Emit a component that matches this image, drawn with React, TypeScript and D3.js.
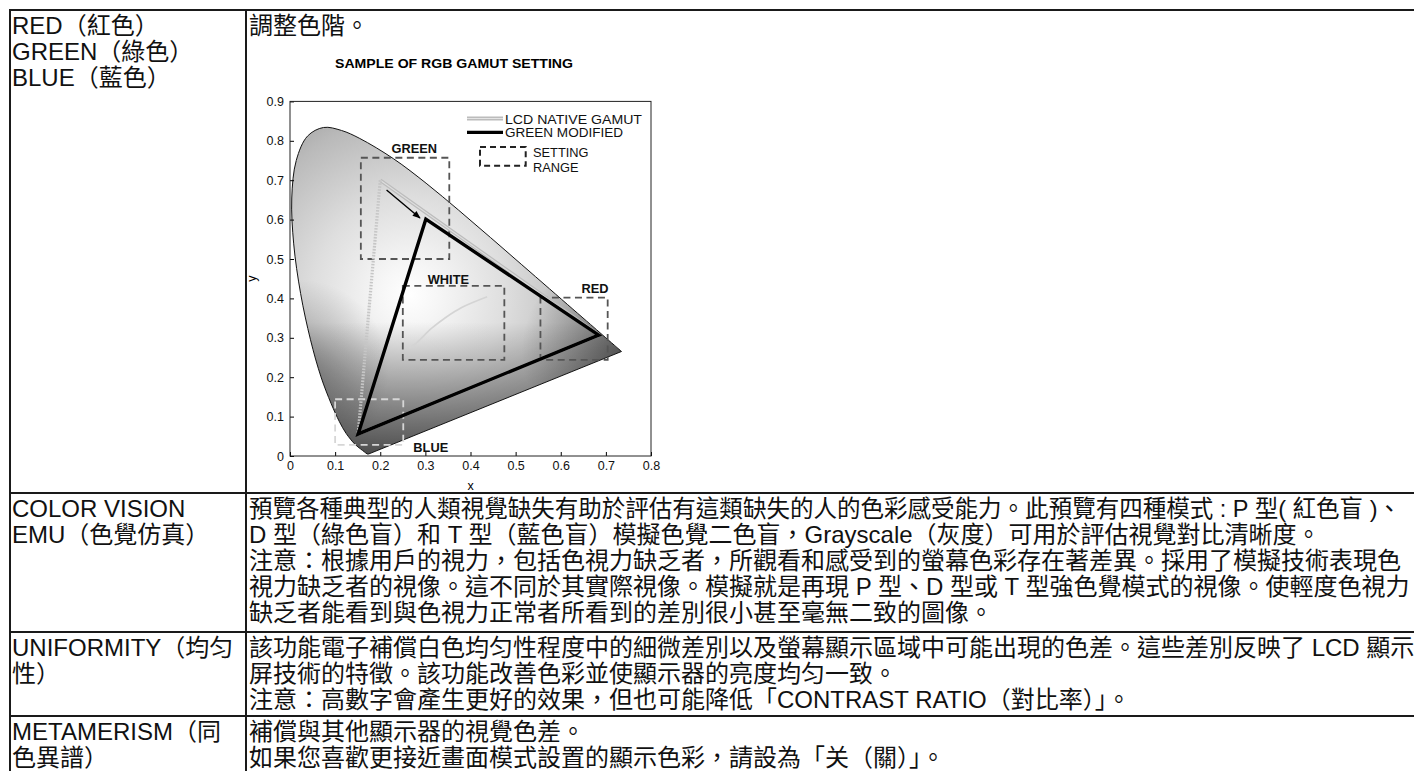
import React, { useEffect, useRef } from "react";
import * as d3 from "d3";

// CIE 1931 spectral locus (nm, x, y)
const locusNm = [380, 420, 440, 450, 460, 470, 475, 480, 485, 490, 495, 500, 505, 510, 515, 520, 525, 530, 540, 550, 560, 570, 580, 590, 600, 610, 620, 640, 700];
const locusX = [0.1741, 0.1714, 0.1644, 0.1566, 0.144, 0.1241, 0.1096, 0.0913, 0.0687, 0.0454, 0.0235, 0.0082, 0.0039, 0.0139, 0.0389, 0.0743, 0.1142, 0.1547, 0.2296, 0.3016, 0.3731, 0.4441, 0.5125, 0.5752, 0.627, 0.6658, 0.6915, 0.719, 0.7347];
const locusY = [0.005, 0.0051, 0.0109, 0.0177, 0.0297, 0.0578, 0.0868, 0.1327, 0.2007, 0.295, 0.4127, 0.5384, 0.6548, 0.7502, 0.812, 0.8338, 0.8262, 0.8059, 0.7543, 0.6923, 0.6245, 0.5547, 0.4866, 0.4242, 0.3725, 0.334, 0.3083, 0.2809, 0.2653];

// primaries G, R, B
const nativeX = [0.2, 0.684, 0.151];
const nativeY = [0.7, 0.307, 0.056];
const modifiedX = [0.301, 0.684, 0.151];
const modifiedY = [0.601, 0.307, 0.056];

// setting range boxes
const rangeNames = ["GREEN", "WHITE", "RED", "BLUE"];
const rangeX0 = [0.157, 0.25, 0.555, 0.1];
const rangeX1 = [0.353, 0.475, 0.704, 0.251];
const rangeY0 = [0.5, 0.244, 0.244, 0.028];
const rangeY1 = [0.757, 0.432, 0.402, 0.144];
const rangeLabelX = [0.2755, 0.351, 0.676, 0.312];
const rangeLabelY = [0.781, 0.449, 0.424, 0.021];

// black body curve inside WHITE
const planckX = [0.264, 0.281, 0.3135, 0.3451, 0.3805, 0.4369];
const planckY = [0.273, 0.288, 0.3237, 0.3516, 0.3768, 0.4041];

const arrowFrom = [0.214, 0.675];
const arrowTo = [0.288, 0.604];

const xTicks = [0, 0.1, 0.2, 0.3, 0.4, 0.5, 0.6, 0.7, 0.8];
const yTicks = [0, 0.1, 0.2, 0.3, 0.4, 0.5, 0.6, 0.7, 0.8, 0.9];

const chartTitle = "SAMPLE OF RGB GAMUT SETTING";
const legendLines = ["LCD NATIVE GAMUT", "GREEN MODIFIED"];
const legendRange = ["SETTING", "RANGE"];

// table
const itemNames = [
  ["RED（紅色）", "GREEN（綠色）", "BLUE（藍色）"],
  ["COLOR VISION", "EMU（色覺仿真）"],
  ["UNIFORMITY（均匀", "性）"],
  ["METAMERISM（同", "色異譜）"],
];
const itemTexts = [
  ["調整色階。"],
  [
    "預覽各種典型的人類視覺缺失有助於評估有這類缺失的人的色彩感受能力。此預覽有四種模式 : P 型( 紅色盲 )、",
    "D 型（綠色盲）和 T 型（藍色盲）模擬色覺二色盲，Grayscale（灰度）可用於評估視覺對比清晰度。",
    "注意：根據用戶的視力，包括色視力缺乏者，所觀看和感受到的螢幕色彩存在著差異。採用了模擬技術表現色",
    "視力缺乏者的視像。這不同於其實際視像。模擬就是再現 P 型、D 型或 T 型強色覺模式的視像。使輕度色視力",
    "缺乏者能看到與色視力正常者所看到的差別很小甚至毫無二致的圖像。",
  ],
  [
    "該功能電子補償白色均匀性程度中的細微差別以及螢幕顯示區域中可能出現的色差。這些差別反映了 LCD 顯示",
    "屏技術的特徵。該功能改善色彩並使顯示器的亮度均匀一致。",
    "注意：高數字會產生更好的效果，但也可能降低「CONTRAST RATIO（對比率）」。",
  ],
  [
    "補償與其他顯示器的視覺色差。",
    "如果您喜歡更接近畫面模式設置的顯示色彩，請設為「关（關）」。",
  ],
];

const FONT = "'Liberation Sans', Arial, Helvetica, 'Noto Sans CJK TC', sans-serif";

export default function App() {
  const ref = useRef<SVGSVGElement>(null);

  useEffect(() => {
    const svg = d3.select(ref.current);
    svg.selectAll("*").remove();
    const W = 1414, H = 771;
    svg.append("rect").attr("width", W).attr("height", H).attr("fill", "#fff");
    const defs = svg.append("defs");

    // ---- table ----
    const left = 10, split = 246;
    const rows = [10, 493, 632, 716];
    const grid = svg.append("g").attr("stroke", "#1a1a1a").attr("stroke-width", 2);
    rows.forEach(r => grid.append("line").attr("x1", left - 1).attr("x2", W).attr("y1", r).attr("y2", r));
    [left, split].forEach(v => grid.append("line").attr("x1", v).attr("x2", v).attr("y1", rows[0] - 1).attr("y2", H));

    const txt = svg.append("g").attr("font-family", FONT).attr("font-size", 24).attr("fill", "#111");
    itemNames.forEach((lines, i) =>
      lines.forEach((t, j) => txt.append("text").attr("x", 12).attr("y", rows[i] + 24 + j * 26).text(t)));
    itemTexts.forEach((lines, i) =>
      lines.forEach((t, j) => {
        const el = txt.append("text").attr("x", 249).attr("y", rows[i] + 24 + j * 26).text(t);
        // the first colour-vision line runs to the right edge
        if (i === 1 && j === 0) el.attr("textLength", 1152).attr("lengthAdjust", "spacingAndGlyphs");
      }));

    // ---- chart ----
    const x = d3.scaleLinear().domain([0, 0.8]).range([290, 651]);
    const y = d3.scaleLinear().domain([0, 0.9]).range([456, 101.4]);
    const chart = svg.append("g").attr("font-family", FONT);

    chart.append("text").attr("x", 454).attr("y", 68).attr("text-anchor", "middle")
      .attr("font-size", 13.5).attr("font-weight", "bold").attr("textLength", 238)
      .attr("lengthAdjust", "spacingAndGlyphs").text(chartTitle);

    const pts = locusX.map((v, i) => [x(v), y(locusY[i])] as [number, number]);
    const locusPath = (d3.line().curve(d3.curveCatmullRom)(pts) as string) + "Z";

    defs.append("clipPath").attr("id", "locusClip").append("path").attr("d", locusPath);

    const glow = defs.append("radialGradient").attr("id", "glow").attr("gradientUnits", "userSpaceOnUse")
      .attr("cx", x(0.265)).attr("cy", y(0.41)).attr("r", 300);
    [[0, "#ffffff"], [0.1, "#f6f6f6"], [0.32, "#dedede"], [0.58, "#bababa"], [0.82, "#909090"], [1, "#6c6c6c"]]
      .forEach(([o, c]) => glow.append("stop").attr("offset", o).attr("stop-color", c));

    const shade = defs.append("linearGradient").attr("id", "shade").attr("gradientUnits", "userSpaceOnUse")
      .attr("x1", 0).attr("x2", 0).attr("y1", y(0.34)).attr("y2", y(0));
    shade.append("stop").attr("offset", 0).attr("stop-color", "#000").attr("stop-opacity", 0);
    shade.append("stop").attr("offset", 1).attr("stop-color", "#000").attr("stop-opacity", 0.6);

    const darkSpot = (id: string, cx: number, cy: number, r: number, op: number) => {
      const gr = defs.append("radialGradient").attr("id", id).attr("gradientUnits", "userSpaceOnUse")
        .attr("cx", cx).attr("cy", cy).attr("r", r);
      gr.append("stop").attr("offset", 0).attr("stop-color", "#000").attr("stop-opacity", op);
      gr.append("stop").attr("offset", 1).attr("stop-color", "#000").attr("stop-opacity", 0);
    };
    darkSpot("tip", x(0.735), y(0.265), 100, 0.4);
    darkSpot("leftEdge", x(0.02), y(0.22), 90, 0.3);

    const shapeG = chart.append("g").attr("clip-path", "url(#locusClip)");
    ["glow", "shade", "tip", "leftEdge"].forEach(id =>
      shapeG.append("path").attr("d", locusPath).attr("fill", `url(#${id})`));
    chart.append("path").attr("d", locusPath).attr("fill", "none").attr("stroke", "#111").attr("stroke-width", 1);

    // black body curve
    chart.append("path")
      .attr("d", d3.line().curve(d3.curveCatmullRom)(planckX.map((v, i) => [x(v), y(planckY[i])] as [number, number])))
      .attr("fill", "none").attr("stroke", "#d4d4d4").attr("stroke-width", 1.6);

    // setting ranges
    rangeNames.forEach((n, i) => {
      chart.append("rect")
        .attr("x", x(rangeX0[i])).attr("y", y(rangeY1[i]))
        .attr("width", x(rangeX1[i]) - x(rangeX0[i])).attr("height", y(rangeY0[i]) - y(rangeY1[i]))
        .attr("fill", "none").attr("stroke", n === "BLUE" ? "#d6d6d6" : "#555")
        .attr("stroke-width", 1.8).attr("stroke-dasharray", "7 4.5");
    });

    // native gamut
    const nat = nativeX.map((v, i) => [x(v), y(nativeY[i])]);
    const seg = (a: number[], b: number[]) => `M${a[0]},${a[1]}L${b[0]},${b[1]}`;
    chart.append("path").attr("d", seg(nat[0], nat[1]) + seg(nat[1], nat[2]))
      .attr("fill", "none").attr("stroke", "#bcbcbc").attr("stroke-width", 3.6);
    chart.append("path").attr("d", seg(nat[0], nat[1]))
      .attr("fill", "none").attr("stroke", "#dedede").attr("stroke-width", 1.1);
    chart.append("path").attr("d", seg(nat[0], nat[2]))
      .attr("fill", "none").attr("stroke", "#c6c6c6").attr("stroke-width", 3.2).attr("stroke-dasharray", "1.6 1.4");

    // modified gamut
    chart.append("path")
      .attr("d", d3.line()(modifiedX.map((v, i) => [x(v), y(modifiedY[i])] as [number, number])) + "Z")
      .attr("fill", "none").attr("stroke", "#000").attr("stroke-width", 3.4).attr("stroke-linejoin", "miter");

    // arrow
    defs.append("marker").attr("id", "arrowHead").attr("viewBox", "0 0 10 10").attr("refX", 9).attr("refY", 5)
      .attr("markerUnits", "userSpaceOnUse").attr("markerWidth", 9).attr("markerHeight", 8).attr("orient", "auto")
      .append("path").attr("d", "M0,1L10,5L0,9Z").attr("fill", "#000");
    chart.append("line")
      .attr("x1", x(arrowFrom[0])).attr("y1", y(arrowFrom[1])).attr("x2", x(arrowTo[0])).attr("y2", y(arrowTo[1]))
      .attr("stroke", "#000").attr("stroke-width", 1.4).attr("marker-end", "url(#arrowHead)");

    // range labels
    rangeNames.forEach((n, i) => {
      chart.append("text").attr("x", x(rangeLabelX[i])).attr("y", y(rangeLabelY[i]) + 4.5)
        .attr("text-anchor", "middle").attr("font-size", 12.8).attr("font-weight", "bold").attr("fill", "#111").text(n);
    });

    // legend
    const lg = chart.append("g");
    lg.append("line").attr("x1", 467).attr("x2", 503).attr("y1", 118.5).attr("y2", 118.5).attr("stroke", "#bcbcbc").attr("stroke-width", 4);
    lg.append("line").attr("x1", 467).attr("x2", 503).attr("y1", 118.5).attr("y2", 118.5).attr("stroke", "#e4e4e4").attr("stroke-width", 1.2);
    lg.append("line").attr("x1", 467).attr("x2", 503).attr("y1", 132.3).attr("y2", 132.3).attr("stroke", "#000").attr("stroke-width", 3.2);
    legendLines.forEach((t, i) =>
      lg.append("text").attr("x", 505).attr("y", 123.5 + i * 13.5).attr("font-size", 13.4).attr("fill", "#111")
        .attr("textLength", i === 0 ? 137 : 118).attr("lengthAdjust", "spacingAndGlyphs").text(t));
    lg.append("rect").attr("x", 480).attr("y", 147).attr("width", 45.7).attr("height", 18.7)
      .attr("fill", "none").attr("stroke", "#222").attr("stroke-width", 2).attr("stroke-dasharray", "6 4");
    legendRange.forEach((t, i) =>
      lg.append("text").attr("x", 533).attr("y", 157 + i * 15).attr("font-size", 12.8).attr("fill", "#111").text(t));

    // axes + frame
    const xa = chart.append("g").attr("transform", `translate(0,${y(0)})`)
      .call(d3.axisBottom(x).tickValues(xTicks).tickSize(-4).tickPadding(5).tickFormat(d3.format(".1~f")));
    const ya = chart.append("g").attr("transform", `translate(${x(0)},0)`)
      .call(d3.axisLeft(y).tickValues(yTicks).tickSize(-4).tickPadding(6).tickFormat(d3.format(".1~f")));
    [xa, ya].forEach(a => {
      a.select(".domain").remove();
      a.attr("font-family", FONT).attr("font-size", 12.5);
      a.selectAll("text").attr("fill", "#111");
    });
    chart.append("rect").attr("x", x(0)).attr("y", y(0.9)).attr("width", x(0.8) - x(0)).attr("height", y(0) - y(0.9))
      .attr("fill", "none").attr("stroke", "#222").attr("stroke-width", 1);
    chart.append("text").attr("x", x(0.4)).attr("y", 490).attr("text-anchor", "middle").attr("font-size", 12.5).text("x");
    chart.append("text").attr("transform", `translate(256,${y(0.45)}) rotate(-90)`).attr("text-anchor", "middle")
      .attr("font-size", 12.5).text("y");
  }, []);

  return (
    <svg ref={ref} width={1414} height={771}
      style={{ position: "absolute", left: 0, top: 0, display: "block" }} />
  );
}
